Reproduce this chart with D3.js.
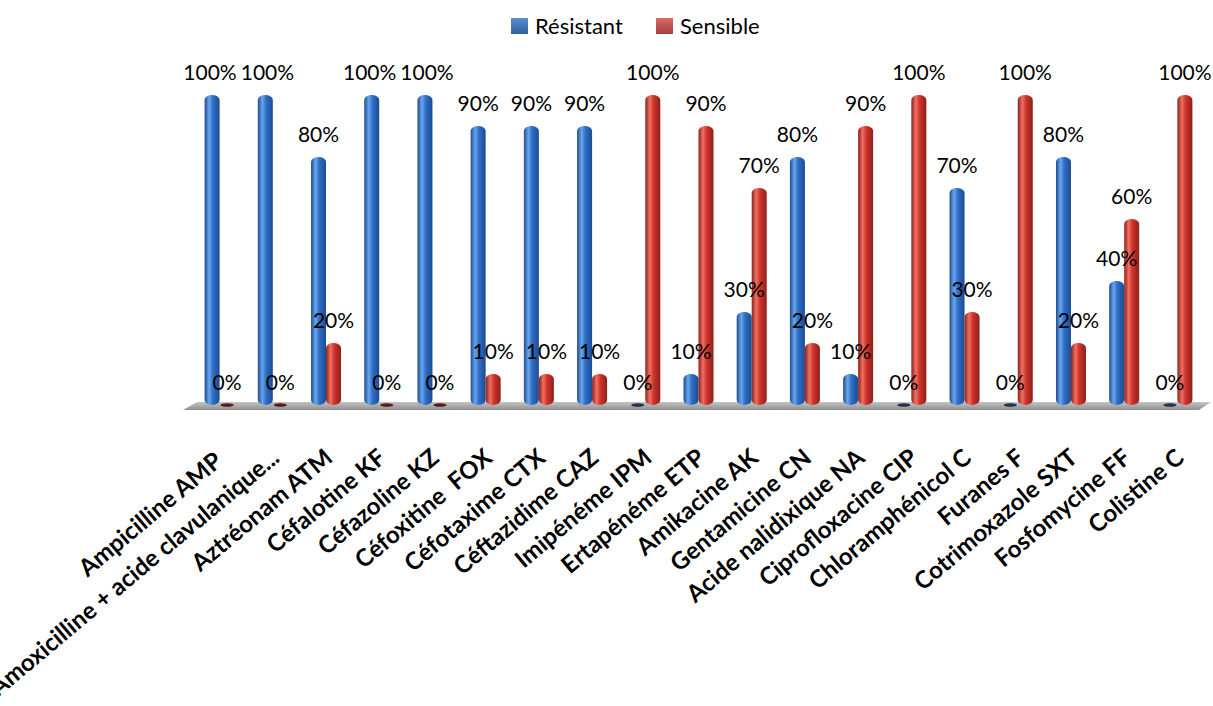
<!DOCTYPE html>
<html>
<head>
<meta charset="utf-8">
<script src="https://cdn.jsdelivr.net/npm/d3@7/dist/d3.min.js"></script>
<style>
  html, body { margin: 0; padding: 0; background: #fff; }
  svg { display: block; }
</style>
</head>
<body>
<svg id="chart" width="1213" height="706"></svg>
<script>
const categories = [
  "Ampicilline AMP ",
  "Amoxicilline + acide clavulanique...",
  "Aztréonam ATM",
  "Céfalotine KF",
  "Céfazoline KZ",
  "Céfoxitine  FOX",
  "Céfotaxime CTX",
  "Céftazidime CAZ",
  "Imipénéme IPM",
  "Ertapénéme ETP",
  "Amikacine AK",
  "Gentamicine CN",
  "Acide nalidixique NA",
  "Ciprofloxacine CIP",
  "Chloramphénicol C",
  "Furanes F",
  "Cotrimoxazole SXT",
  "Fosfomycine FF",
  "Colistine C"
];
const resistant = [100, 100, 80, 100, 100, 90, 90, 90, 0, 10, 30, 80, 10, 0, 70, 0, 80, 40, 0];
const sensible  = [0, 0, 20, 0, 0, 10, 10, 10, 100, 90, 70, 20, 90, 100, 30, 100, 20, 60, 100];
const seriesNames = ["Résistant", "Sensible"];

const svg = d3.select("#chart");

const x = d3.scaleBand().domain(categories).range([193, 1204]).paddingInner(0).paddingOuter(0);
const xs = d3.scaleBand().domain(seriesNames)
  .range([x.bandwidth() / 2 - 15, x.bandwidth() / 2 + 15]).padding(0);
const y = d3.scaleLinear().domain([0, 100]).range([405, 95]);

const pal = {
  "Résistant": { dark: "#1c4b93", mid: "#2f6fc6", light: "#6aa6ec", zero: "#22324f", legend: ["#2f5f9e", "#5b8fd0"] },
  "Sensible":  { dark: "#8e1f1a", mid: "#cf342b", light: "#ee7163", zero: "#5a1c18", legend: ["#a5403c", "#d46a66"] }
};

const defs = svg.append("defs");
seriesNames.forEach((s, i) => {
  const g = defs.append("linearGradient").attr("id", "cyl" + i)
    .attr("x1", 0).attr("x2", 1).attr("y1", 0).attr("y2", 0);
  g.append("stop").attr("offset", "0%").attr("stop-color", pal[s].dark);
  g.append("stop").attr("offset", "30%").attr("stop-color", pal[s].light);
  g.append("stop").attr("offset", "55%").attr("stop-color", pal[s].mid);
  g.append("stop").attr("offset", "100%").attr("stop-color", pal[s].dark);
  const lg = defs.append("linearGradient").attr("id", "leg" + i)
    .attr("x1", 0).attr("x2", 0).attr("y1", 0).attr("y2", 1);
  lg.append("stop").attr("offset", "0%").attr("stop-color", pal[s].legend[1]);
  lg.append("stop").attr("offset", "100%").attr("stop-color", pal[s].legend[0]);
});
const fg = defs.append("linearGradient").attr("id", "floor")
  .attr("x1", 0).attr("x2", 0).attr("y1", 0).attr("y2", 1);
fg.append("stop").attr("offset", "0%").attr("stop-color", "#c4c4c4");
fg.append("stop").attr("offset", "100%").attr("stop-color", "#8f8f8f");

// Floor
const r0 = x.range()[0], r1 = x.range()[1];
const fy0 = y(0) - 3, fy1 = y(0) + 5;
svg.append("polygon")
  .attr("points", [[r0 + 4, fy0], [r1 + 7, fy0], [r1 - 5, fy1], [r0 - 10, fy1]].map(p => p.join(",")).join(" "))
  .attr("fill", "url(#floor)");

const rows = categories.map((c, i) => ({ cat: c, values: [resistant[i], sensible[i]] }));

// Bars
const barLayer = svg.append("g");
const labelData = [];
rows.forEach(d => {
  d.values.forEach((v, si) => {
    const s = seriesNames[si];
    const x0 = x(d.cat) + xs(s);
    const bw = xs.bandwidth();
    const cx = x0 + bw / 2;
    if (v > 0) {
      barLayer.append("rect")
        .attr("x", x0).attr("width", bw)
        .attr("y", y(v)).attr("height", y(0) - y(v))
        .attr("rx", bw / 2).attr("ry", 5)
        .attr("fill", `url(#cyl${si})`);
    } else {
      barLayer.append("ellipse")
        .attr("cx", cx).attr("cy", y(0)).attr("rx", bw / 2 - 1).attr("ry", 1.8)
        .attr("fill", pal[s].zero);
    }
    labelData.push({ v, cx, y: y(v) - 15 });
  });
});

// Value labels with simple overlap separation
const labelLayer = svg.append("g");
const labels = labelLayer.selectAll("text").data(labelData).join("text")
  .attr("x", d => d.cx).attr("y", d => d.y)
  .attr("text-anchor", "middle")
  .attr("font-family", "Lato, 'Open Sans', sans-serif")
  .attr("font-size", 21)
  .attr("fill", "#000")
  .text(d => d.v + "%");
labels.each(function(d) { const b = this.getBBox(); d.w = b.width; d.x = d.cx; });
for (let iter = 0; iter < 5; iter++) {
  for (let i = 0; i < labelData.length; i++) {
    for (let j = i + 1; j < labelData.length; j++) {
      const a = labelData[i], b = labelData[j];
      if (Math.abs(a.y - b.y) > 16) continue;
      const gap = (b.x - b.w / 2) - (a.x + a.w / 2);
      if (gap < 4) {
        const push = (4 - gap) / 2;
        a.x -= push; b.x += push;
      }
    }
  }
}
labels.attr("x", d => d.x);

// X axis labels
const axis = d3.axisBottom(x).tickSize(0).tickPadding(0);
const ax = svg.append("g").attr("transform", "translate(0,447)").call(axis);
ax.select(".domain").remove();
ax.selectAll(".tick text")
  .attr("x", 0).attr("y", 0).attr("dy", "0.72em")
  .attr("transform", "translate(-3,0) rotate(-40)")
  .attr("text-anchor", "end")
  .attr("font-family", "Lato, 'Open Sans', sans-serif")
  .attr("font-weight", "bold")
  .attr("font-size", 24)
  .attr("fill", "#000")
  .style("white-space", "pre");

// Legend
const legendX = [511, 656];
const leg = svg.append("g").selectAll("g").data(seriesNames).join("g")
  .attr("transform", (d, i) => `translate(${legendX[i]},18)`);
leg.append("rect").attr("width", 17).attr("height", 16).attr("fill", (d, i) => `url(#leg${i})`);
leg.append("text").attr("x", 24).attr("y", 16)
  .attr("font-family", "Lato, 'Open Sans', sans-serif")
  .attr("font-size", 22).attr("fill", "#000")
  .text(d => d);
</script>
</body>
</html>
